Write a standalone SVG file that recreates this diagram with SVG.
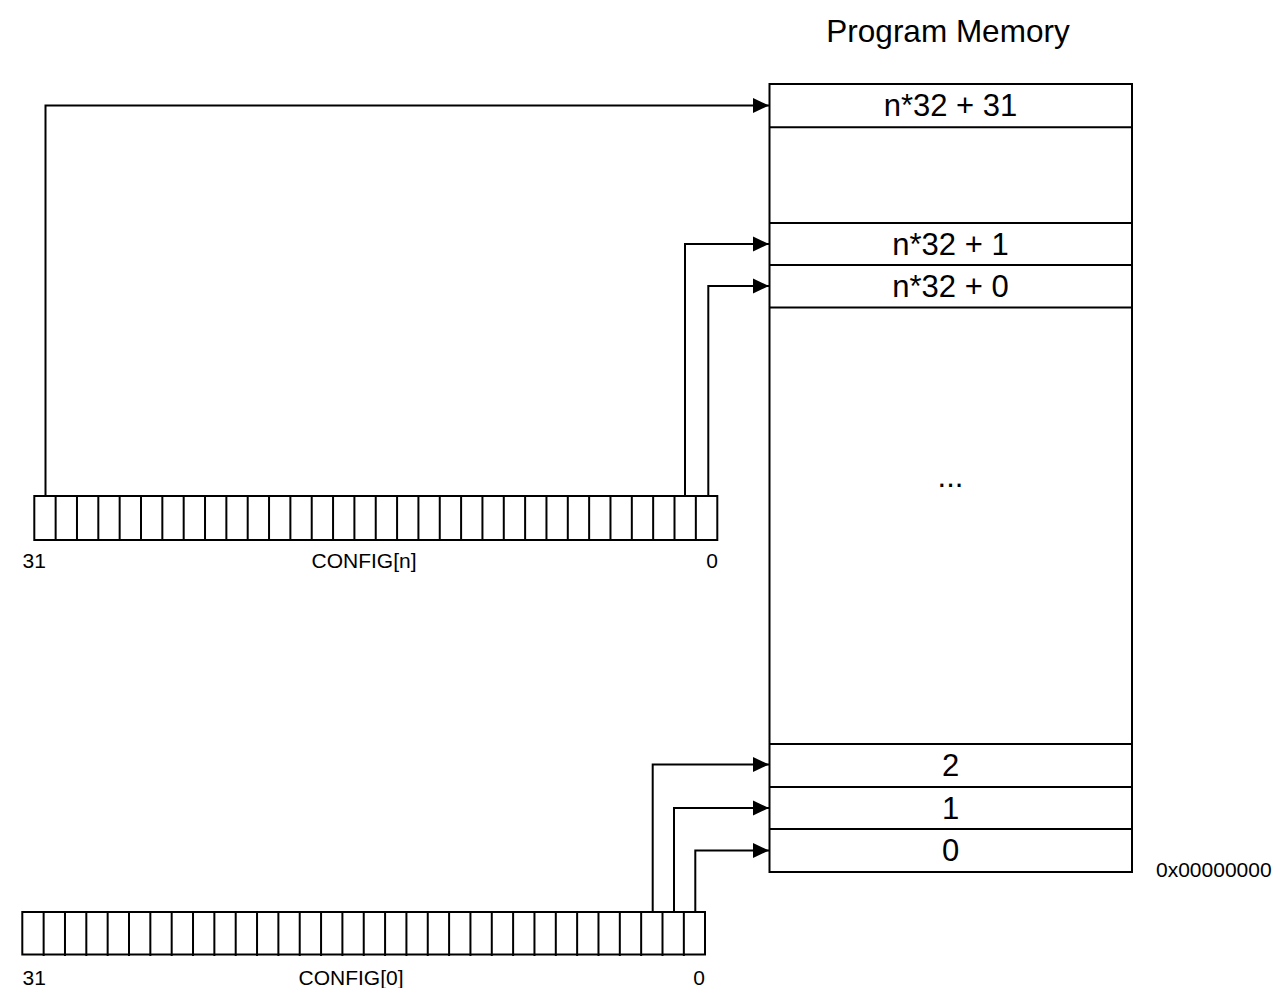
<svg xmlns="http://www.w3.org/2000/svg" width="1273" height="988" viewBox="0 0 1273 988">
<style>
  .ln { stroke: #000; stroke-width: 2; fill: none; }
  .box { stroke: #000; stroke-width: 2; fill: #fff; }
  .big { font-family: "Liberation Sans", Arial, sans-serif; font-size: 31px; fill: #000; text-anchor: middle; }
  .sm { font-family: "Liberation Sans", Arial, sans-serif; font-size: 21px; fill: #000; }
  .conn { stroke: #000; stroke-width: 2; fill: none; marker-end: url(#ah); }
</style>
<defs>
  <marker id="ah" markerWidth="17" markerHeight="16" refX="16" refY="8" orient="auto" markerUnits="userSpaceOnUse">
    <path d="M0,0.5 L16,8 L0,15.5 Z" fill="#000"/>
  </marker>
  <g id="cells">
    <path class="ln" d="M21.34,0v44M42.68,0v44M64.02,0v44M85.36,0v44M106.7,0v44M128.04,0v44M149.38,0v44M170.72,0v44M192.06,0v44M213.4,0v44M234.74,0v44M256.08,0v44M277.42,0v44M298.76,0v44M320.1,0v44M341.44,0v44M362.78,0v44M384.12,0v44M405.46,0v44M426.8,0v44M448.14,0v44M469.48,0v44M490.82,0v44M512.16,0v44M533.5,0v44M554.84,0v44M576.18,0v44M597.52,0v44M618.86,0v44M640.2,0v44M661.54,0v44"/>
  </g>
</defs>
<rect width="1273" height="988" fill="#fff"/>

<text class="big" x="948" y="42" style="font-size:31.5px">Program Memory</text>

<g id="memory">
  <rect class="box" x="769.5" y="84" width="362.5" height="788"/>
  <line class="ln" x1="769.5" y1="84" x2="1132" y2="84" stroke-width="3"/>
  <line class="ln" x1="769.5" y1="127.3" x2="1132" y2="127.3"/>
  <line class="ln" x1="769.5" y1="223" x2="1132" y2="223"/>
  <line class="ln" x1="769.5" y1="265" x2="1132" y2="265"/>
  <line class="ln" x1="769.5" y1="307.5" x2="1132" y2="307.5"/>
  <line class="ln" x1="769.5" y1="744" x2="1132" y2="744"/>
  <line class="ln" x1="769.5" y1="787" x2="1132" y2="787"/>
  <line class="ln" x1="769.5" y1="829" x2="1132" y2="829"/>
  <text class="big" x="950.5" y="116">n*32 + 31</text>
  <text class="big" x="950.5" y="254.5">n*32 + 1</text>
  <text class="big" x="950.5" y="297">n*32 + 0</text>
  <text class="big" x="950.5" y="487">...</text>
  <text class="big" x="950.5" y="776">2</text>
  <text class="big" x="950.5" y="818.5">1</text>
  <text class="big" x="950.5" y="861">0</text>
  <text class="sm" x="1156" y="877">0x00000000</text>
</g>

<g id="config-n">
  <rect class="box" x="34.3" y="496" width="683" height="44"/>
  <use href="#cells" x="34.3" y="496"/>
  <text class="sm" x="22.5" y="568">31</text>
  <text class="sm" x="364" y="568" text-anchor="middle">CONFIG[n]</text>
  <text class="sm" x="712" y="568" text-anchor="middle">0</text>
</g>

<g id="config-0">
  <rect class="box" x="22.3" y="912" width="682.7" height="42.5"/>
  <use href="#cells" x="22.3" y="912"/>
  <text class="sm" x="22.5" y="985">31</text>
  <text class="sm" x="351" y="985" text-anchor="middle">CONFIG[0]</text>
  <text class="sm" x="699" y="985" text-anchor="middle">0</text>
</g>

<g id="connectors">
  <path class="conn" d="M45.5,496 V105.5 H769"/>
  <path class="conn" d="M685,496 V244 H769"/>
  <path class="conn" d="M708.3,496 V286 H769"/>
  <path class="conn" d="M652.7,912 V764.5 H769"/>
  <path class="conn" d="M674,912 V808 H769"/>
  <path class="conn" d="M695.3,912 V850.5 H769"/>
</g>
</svg>
